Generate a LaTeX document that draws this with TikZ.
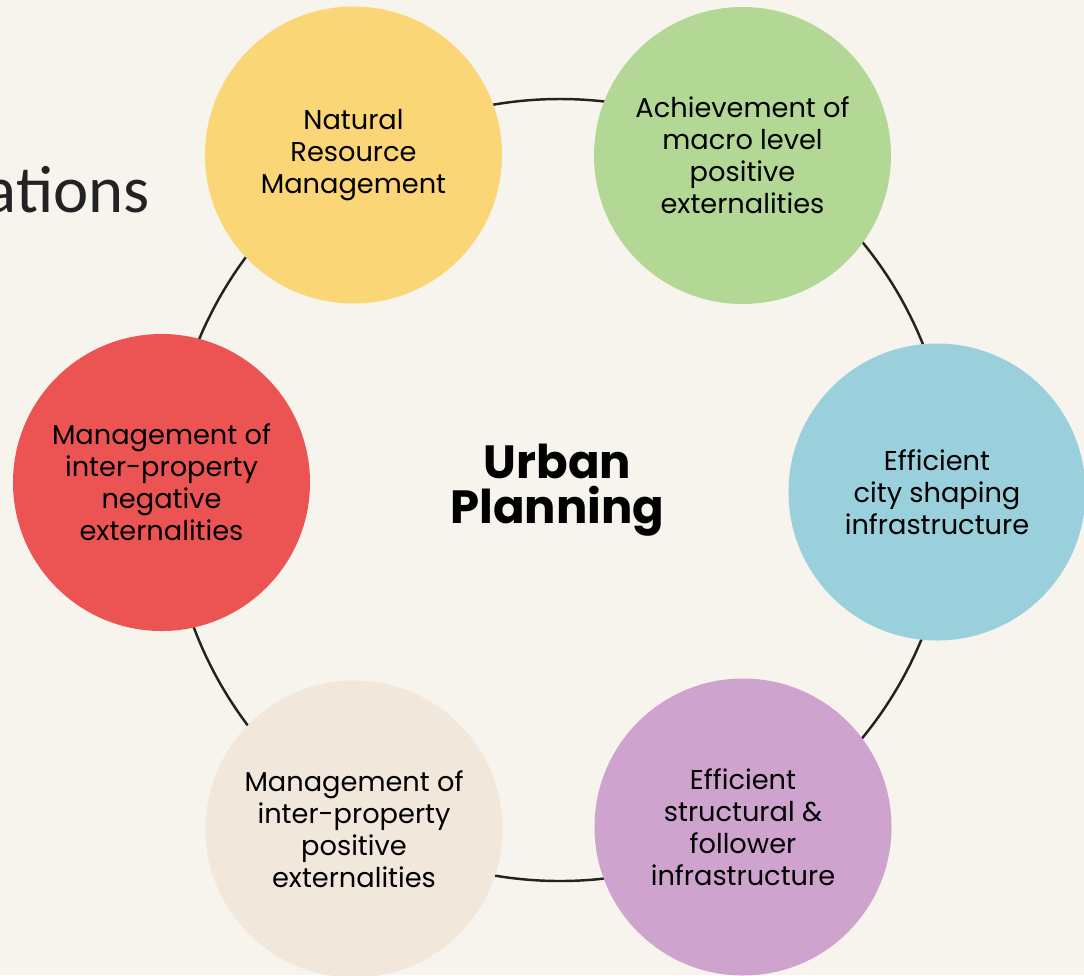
\documentclass[tikz,border=0pt]{standalone}
\usepackage{fontspec}
\setmainfont{Poppins}
\newfontfamily\titlefont{Carlito}
\usepackage{tikz}

\definecolor{bgpaper}{HTML}{F7F4EE}
\definecolor{cyellow}{HTML}{FBD677}
\definecolor{cgreen}{HTML}{B3D794}
\definecolor{cblue}{HTML}{99D0DC}
\definecolor{cpurple}{HTML}{CEA3CE}
\definecolor{cbeige}{HTML}{F1E7DA}
\definecolor{cred}{HTML}{EC5353}
\definecolor{ringgray}{HTML}{222222}

\tikzset{
  bubble/.style={circle, minimum size=5.94cm, inner sep=0pt, align=center,
    font=\fontsize{15.5}{18.2}\selectfont, text=black},
}

\begin{document}
\begin{tikzpicture}[>=latex, scale=1.0]
% Fondo
\fill[bgpaper] (0,0) rectangle (21.68,-19.5);
\useasboundingbox (0,0) rectangle (21.68,-19.5);
% Titulo cortado
\node[anchor=base east, inner sep=0pt, text=ringgray,
  font=\titlefont\fontsize{38}{40}\selectfont] (title) at (3.0,-4.24) {ations};
% Anillo
\coordinate (hub) at (11.2,-9.8);
\draw[ringgray, line width=1.4pt] (hub) circle (7.82);
% Circulos
\node[bubble, fill=cyellow] (nat) at (7.07,-3.10) {Natural\\Resource\\Management};
\node[bubble, fill=cgreen] (macro) at (14.85,-3.11) {Achievement of\\macro level\\positive\\externalities};
\node[bubble, fill=cblue] (city) at (18.74,-9.84) {Efficient\\city shaping\\infrastructure};
\node[bubble, fill=cpurple] (struct) at (14.86,-16.54) {Efficient\\structural \&\\follower\\infrastructure};
\node[bubble, fill=cbeige] (pos) at (7.08,-16.58) {Management of\\inter-property\\positive\\externalities};
\node[bubble, fill=cred] (neg) at (3.23,-9.65) {Management of\\inter-property\\negative\\externalities};
% Centro
\node[align=center, font=\bfseries\fontsize{26.5}{25.5}\selectfont] (urban) at (11.15,-9.8) {Urban\\Planning};
\end{tikzpicture}
\end{document}
